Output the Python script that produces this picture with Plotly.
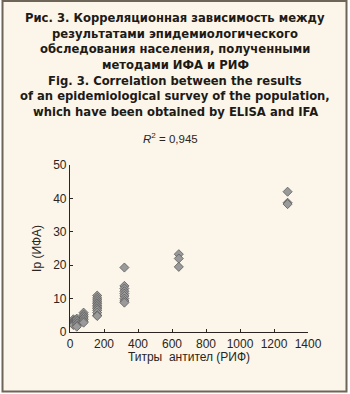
import plotly.graph_objects as go

# Data (titers by RIF vs Ip by ELISA)
titers_20 = [3.8, 3.3, 3.0, 2.7, 2.4, 2.1]
titers_40 = [4.0, 3.5, 3.0, 2.5, 2.0, 1.6]
titers_80 = [5.8, 5.2, 4.7, 4.2, 3.7, 3.2, 2.8]
titers_160 = [10.9, 10.2, 9.6, 9.0, 8.5, 8.0, 7.5, 7.0, 6.5, 5.8, 5.0, 4.8]
titers_320 = [19.3, 13.8, 13.0, 12.2, 11.5, 10.8, 10.0, 9.3, 8.8]
titers_640 = [23.3, 22.0, 19.5]
titers_1280 = [42.0, 38.7, 38.3]

groups = {20: titers_20, 40: titers_40, 80: titers_80, 160: titers_160,
          320: titers_320, 640: titers_640, 1280: titers_1280}

xs, ys = [], []
for t, vals in groups.items():
    for v in vals:
        xs.append(t)
        ys.append(v)

x_ticks = [0, 200, 400, 600, 800, 1000, 1200, 1400]
y_ticks = [0, 10, 20, 30, 40, 50]

title_lines = ["Рис. 3. Корреляционная зависимость между",
               "результатами эпидемиологического",
               "обследования населения, полученными",
               "методами ИФА и РИФ",
               "Fig. 3. Correlation between the results",
               "of an epidemiological survey of the population,",
               "which have been obtained by ELISA and IFA"]

BG = "#fbf5ea"
INK = "#2a2520"

fig = go.Figure()
fig.add_trace(go.Scatter(
    x=xs, y=ys, mode="markers",
    marker=dict(symbol="diamond", size=7, color="#9a9a9a",
                line=dict(color="#5a5a5a", width=0.8)),
    showlegend=False, hoverinfo="x+y"))

W, H = 350, 394
L, R, T, B = 70, 42, 165, 62
pw, ph = W - L - R, H - T - B

def px_to_paper_x(px):
    return (px - L) / pw

def px_to_paper_y(py):
    return (H - B - py) / ph

fig.add_shape(type="rect", xref="paper", yref="paper",
              x0=px_to_paper_x(2.5), x1=px_to_paper_x(346.5),
              y0=px_to_paper_y(391.5), y1=px_to_paper_y(1),
              line=dict(color="#6e6559", width=2), fillcolor=BG, layer="below")

for i, line in enumerate(title_lines):
    fig.add_annotation(text="<b>" + line + "</b>", xref="paper", yref="paper",
                       x=px_to_paper_x(175), y=px_to_paper_y(18 + i * 15.7),
                       xanchor="center", yanchor="middle",
                       showarrow=False, align="center",
                       font=dict(family="DejaVu Sans", size=11.6, color="#1e1a16"))

fig.add_annotation(text="<i>R</i><sup>2</sup> = 0,945", xref="paper", yref="paper",
                   x=px_to_paper_x(170), y=px_to_paper_y(138), xanchor="center", yanchor="middle",
                   showarrow=False,
                   font=dict(family="Liberation Sans, Arial", size=11.5, color=INK))

fig.update_layout(
    width=W, height=H,
    margin=dict(l=L, r=R, t=T, b=B),
    paper_bgcolor="white", plot_bgcolor="rgba(0,0,0,0)",
    font=dict(family="Liberation Sans, Arial", size=12, color=INK),
    xaxis=dict(range=[0, 1400], tickvals=x_ticks, ticks="inside", ticklen=3,
               tickcolor=INK, showline=True, linecolor=INK, linewidth=1.2,
               showgrid=False, zeroline=False,
               title=dict(text="Титры  антител (РИФ)", standoff=0,
                          font=dict(size=12, color=INK)),
               tickfont=dict(size=12, color=INK)),
    yaxis=dict(range=[0, 50], tickvals=y_ticks, ticks="inside", ticklen=3,
               tickcolor=INK, showline=True, linecolor=INK, linewidth=1.2,
               showgrid=False, zeroline=False,
               title=dict(text="Ip (ИФА)", standoff=8,
                          font=dict(size=12, color=INK)),
               tickfont=dict(size=12, color=INK)),
)

fig.write_html("out.html")
